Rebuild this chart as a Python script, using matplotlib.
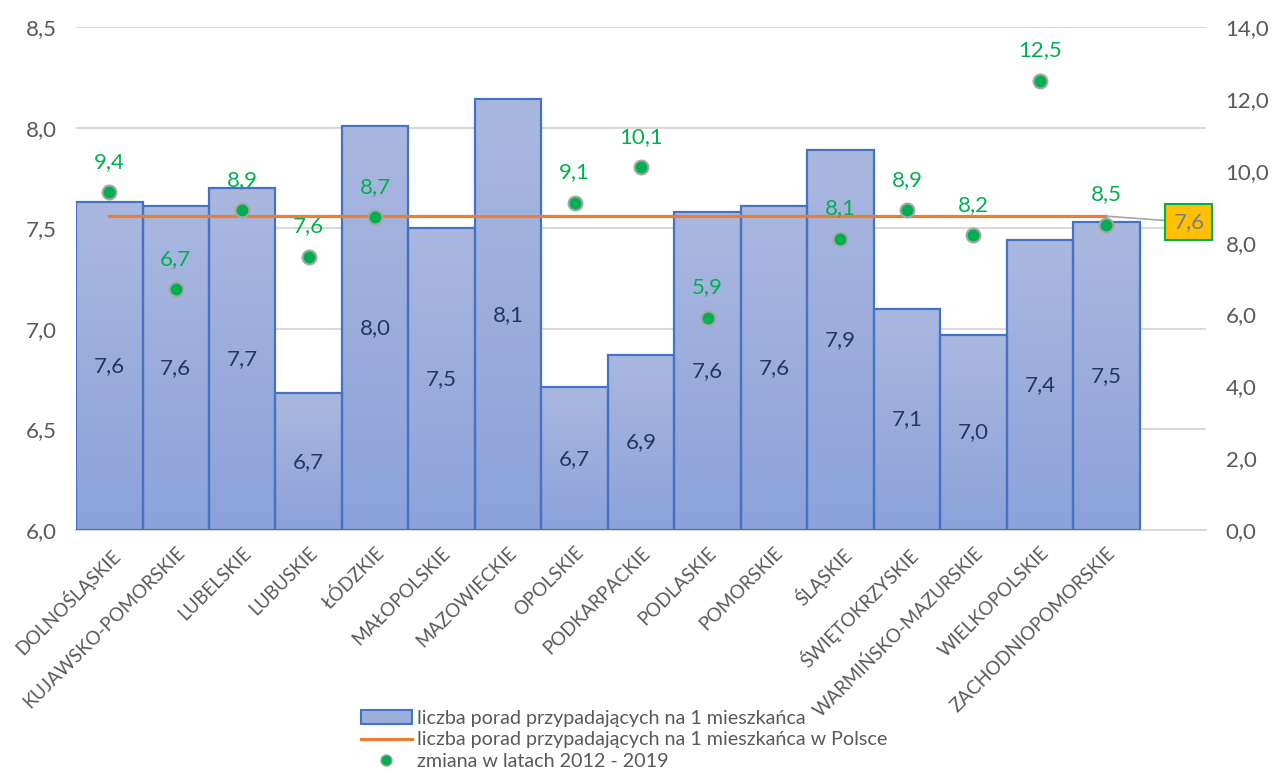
import numpy as np
import matplotlib.pyplot as plt
from matplotlib.colors import LinearSegmentedColormap
from matplotlib.lines import Line2D
from matplotlib.patches import Patch

plt.rcParams['font.family'] = ['Lato', 'DejaVu Sans']

regions = ['DOLNOŚLĄSKIE', 'KUJAWSKO-POMORSKIE', 'LUBELSKIE', 'LUBUSKIE', 'ŁÓDZKIE',
           'MAŁOPOLSKIE', 'MAZOWIECKIE', 'OPOLSKIE', 'PODKARPACKIE', 'PODLASKIE',
           'POMORSKIE', 'ŚLĄSKIE', 'ŚWIĘTOKRZYSKIE', 'WARMIŃSKO-MAZURSKIE',
           'WIELKOPOLSKIE', 'ZACHODNIOPOMORSKIE']
per_capita = [7.63, 7.61, 7.70, 6.68, 8.01, 7.50, 8.14, 6.71, 6.87, 7.58,
              7.61, 7.89, 7.10, 6.97, 7.44, 7.53]
change = [9.4, 6.7, 8.9, 7.6, 8.7, None, None, 9.1, 10.1, 5.9,
          None, 8.1, 8.9, 8.2, 12.5, 8.5]
poland = 7.56

fmt = lambda v: f'{v:.1f}'.replace('.', ',')
gray = '#595959'
green = '#00B050'

fig = plt.figure(figsize=(12.74, 7.73), dpi=100)
ax = fig.add_axes([0.0597, 0.3143, 0.887, 0.6507])
ax2 = ax.twinx()

x = np.arange(len(regions))

grad = LinearSegmentedColormap.from_list('g', ['#8CA2DA', '#AAB8E0'])
bars = ax.bar(x, np.array(per_capita) - 6.0, bottom=6.0, width=1.0,
              facecolor='none', edgecolor='#4472C4', linewidth=1.6, zorder=3)
for b in bars:
    x0, y0 = b.get_x(), b.get_y()
    ax.imshow(np.linspace(0, 1, 100).reshape(-1, 1), cmap=grad, aspect='auto',
              origin='lower', extent=[x0, x0 + b.get_width(), y0, y0 + b.get_height()],
              zorder=2)
ax.set_xlim(-0.5, 16.5)
ax.set_ylim(6.0, 8.5)
ax2.set_ylim(0, 14)

for xi, v in zip(x, per_capita):
    ax.text(xi, (6.0 + v) / 2, fmt(v), ha='center', va='center',
            fontsize=16, color='#1F3864', zorder=5)

ax.plot([0, 15], [poland, poland], color='#ED7D31', lw=2.3, zorder=4)
ax.annotate(fmt(poland), xy=(15, poland), xytext=(16.24, 7.53),
            ha='center', va='center', fontsize=16, color='#7F7F7F', zorder=6,
            bbox=dict(boxstyle='square,pad=0.35', fc='#FFC000', ec=green, lw=1.5),
            arrowprops=dict(arrowstyle='-', color='#A6A6A6', lw=1.2,
                            shrinkA=0, shrinkB=0))

cx = [xi for xi, c in zip(x, change) if c is not None]
cv = [c for c in change if c is not None]
ax2.plot(cx, cv, 'o', ms=10, mfc=green, mec='#A6A6A6', mew=1.5, zorder=6)
for xi, c in zip(cx, cv):
    ax2.annotate(fmt(c), (xi, c), xytext=(0, 22), textcoords='offset points',
                 ha='center', va='center', fontsize=16, color=green)

ax.set_yticks(np.arange(6.0, 8.51, 0.5))
ax.set_yticklabels([fmt(v) for v in np.arange(6.0, 8.51, 0.5)])
ax2.set_yticks(np.arange(0, 14.1, 2))
ax2.set_yticklabels([fmt(v) for v in np.arange(0, 14.1, 2)])
ax.grid(axis='y', color='#D9D9D9', lw=1.5, zorder=0)
ax.set_axisbelow(True)
for a in (ax, ax2):
    for s in a.spines.values():
        s.set_visible(False)
    a.tick_params(length=0, labelsize=16, labelcolor=gray)
ax.spines['bottom'].set_visible(True)
ax.spines['bottom'].set_color('#D9D9D9')
ax.spines['bottom'].set_linewidth(1.5)

ax.set_xticks(x)
ax.set_xticklabels(regions, rotation=45, ha='right', rotation_mode='anchor',
                   fontsize=13.5, color=gray)
ax.tick_params(axis='x', pad=10)
ax.tick_params(axis='y', pad=14)
ax2.tick_params(axis='y', pad=14)

handles = [Patch(facecolor='#9DAEDD', edgecolor='#4472C4', lw=1.5),
           Line2D([], [], color='#ED7D31', lw=2.3),
           Line2D([], [], marker='o', ls='none', ms=8, mfc=green, mec='#A6A6A6')]
labels = ['liczba porad przypadających na 1 mieszkańca',
          'liczba porad przypadających na 1 mieszkańca w Polsce',
          'zmiana w latach 2012 - 2019']
fig.legend(handles, labels, loc='lower left', bbox_to_anchor=(0.277, -0.006),
           frameon=False, fontsize=14.2, labelcolor=gray, handlelength=2.6,
           handletextpad=0.25, labelspacing=0.22, borderaxespad=0)

fig.savefig('out.png', dpi=100)
